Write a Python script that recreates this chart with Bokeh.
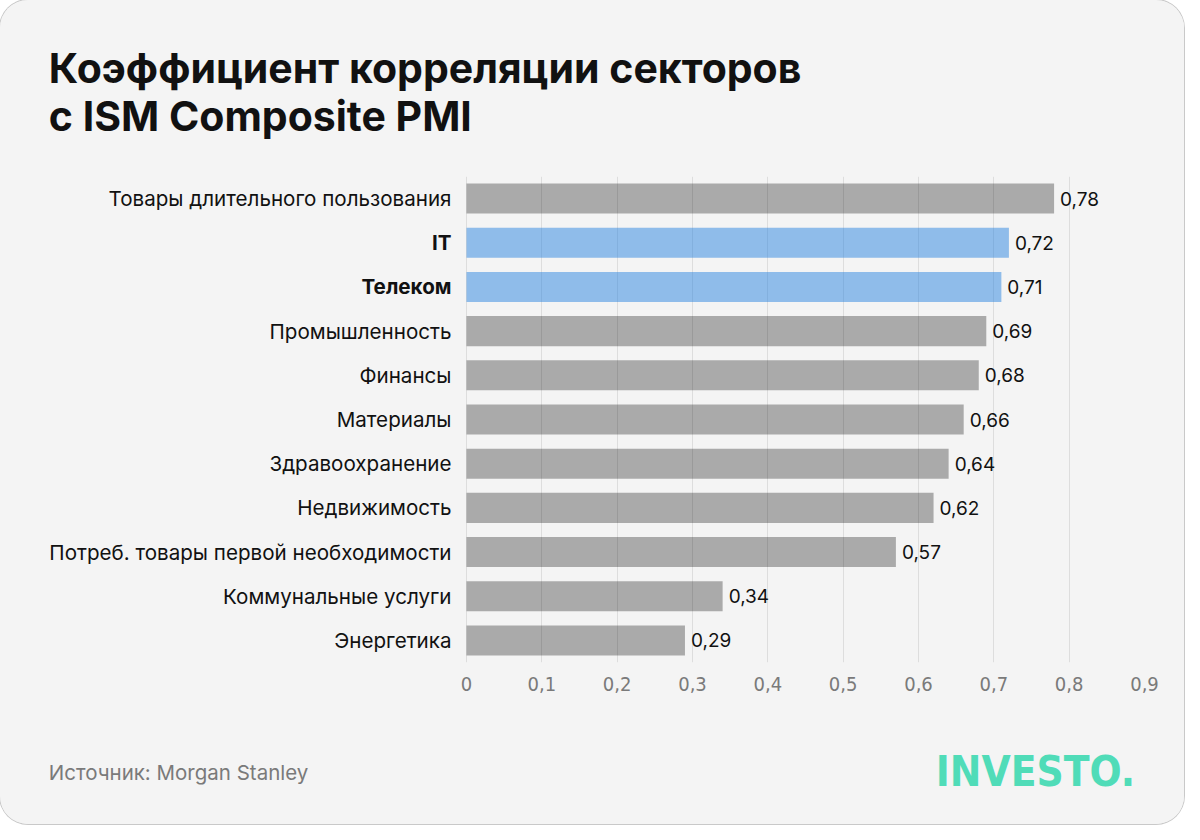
from bokeh.plotting import figure
from bokeh.layouts import column
from bokeh.models import (ColumnDataSource, Range1d, LabelSet, Label,
                          FixedTicker, CustomJSTickFormatter)
from bokeh.core.properties import value
from bokeh.embed import file_html
from bokeh.resources import INLINE

title_lines = ["Коэффициент корреляции секторов", "с ISM Composite PMI"]
categories = ["Товары длительного пользования", "IT", "Телеком", "Промышленность",
              "Финансы", "Материалы", "Здравоохранение", "Недвижимость",
              "Потреб. товары первой необходимости", "Коммунальные услуги", "Энергетика"]
values = [0.78, 0.72, 0.71, 0.69, 0.68, 0.66, 0.64, 0.62, 0.57, 0.34, 0.29]
highlight = [False, True, True, False, False, False, False, False, False, False, False]
x_ticks = [0, 0.1, 0.2, 0.3, 0.4, 0.5, 0.6, 0.7, 0.8, 0.9]
source_text = "Источник: Morgan Stanley"
logo_text = "INVESTO."

BG = "#f4f4f4"
W = 1184
TOP_H, MAIN_H, BOT_H = 176, 536, 112
ZERO_PX, END_PX = 466, 1144       # pixel columns of x = 0 and x = 0.9
X_END = 0.9


def strip(h):
    f = figure(width=W, height=h, output_backend="svg", toolbar_location=None,
               x_range=Range1d(0, W), y_range=Range1d(h, 0),
               x_axis_location=None, y_axis_location=None, min_border=0)
    f.background_fill_color = BG
    f.border_fill_color = BG
    f.outline_line_color = None
    f.grid.visible = False
    return f


# ---- title strip
top = strip(TOP_H)
for i, line in enumerate(title_lines):
    top.add_layout(Label(x=50, y=67 + 48 * i, text=line, text_font="Inter",
                         text_font_size="41px", text_font_style="bold",
                         text_color="#111111", text_baseline="middle"))

# ---- main chart
n = len(categories)
pos = list(range(n))
src = ColumnDataSource(dict(
    pos=pos,
    val=values,
    zero=[0] * n,
    cat=categories,
    lbl=[f"{v:.2f}".replace(".", ",") for v in values],
    color=["#2a84e0" if h else "#000000" for h in highlight],
    alpha=[0.5 if h else 0.3 for h in highlight],
    fstyle=["bold" if h else "normal" for h in highlight],
))

scale = (END_PX - ZERO_PX) / X_END
p = figure(width=W, height=MAIN_H, output_backend="svg", toolbar_location=None,
           x_range=Range1d(-ZERO_PX / scale, X_END),
           y_range=Range1d(n - 0.5, -0.5),
           y_axis_location=None,
           min_border_left=0, min_border_right=W - END_PX,
           min_border_top=0, min_border_bottom=50)
p.background_fill_color = BG
p.border_fill_color = BG
p.outline_line_color = None

p.xgrid.grid_line_color = "#dddddd"
p.xgrid.grid_line_width = 1
p.xgrid.ticker = FixedTicker(ticks=x_ticks)
p.ygrid.grid_line_color = None

p.hbar(y="pos", left="zero", right="val", height=0.68, source=src,
       fill_color="color", fill_alpha="alpha", line_color=None)

# value labels
p.add_layout(LabelSet(x="val", y="pos", text="lbl", source=src, x_offset=6,
                      text_align="left", text_baseline="middle",
                      text_font=value("Inter"), text_font_size=value("19px"),
                      text_color="#111111"))
# category labels
p.add_layout(LabelSet(x="zero", y="pos", text="cat", source=src, x_offset=-15,
                      text_align="right", text_baseline="middle",
                      text_font_style="fstyle",
                      text_font=value("Inter"), text_font_size=value("20.6px"),
                      text_color="#111111"))

xa = p.xaxis[0]
xa.ticker = FixedTicker(ticks=x_ticks)
xa.formatter = CustomJSTickFormatter(code="return tick == 0 ? '0' : tick.toFixed(1).replace('.', ',');")
xa.axis_line_color = None
xa.major_tick_line_color = None
xa.minor_tick_line_color = None
xa.major_label_standoff = 8
xa.major_label_text_font = "DejaVu Sans Condensed"
xa.major_label_text_font_size = "20px"
xa.major_label_text_color = "#7a7a7a"

# ---- footer strip
bot = strip(BOT_H)
bot.add_layout(Label(x=50, y=60, text=source_text, text_font="Inter",
                     text_font_size="20.5px", text_color="#7a7a7a",
                     text_baseline="middle"))
bot.add_layout(Label(x=968, y=59, text=logo_text, text_font="DejaVu Sans Condensed",
                     text_font_size="42px", text_font_style="bold",
                     text_color="#50dcb8", text_baseline="middle"))

layout = column(top, p, bot, spacing=0,
                styles={"border-radius": "28px", "overflow": "hidden",
                        "box-shadow": "0 0 0 1px #c9c9c9", "background": BG})

open("out.html", "w").write(file_html(layout, INLINE))
